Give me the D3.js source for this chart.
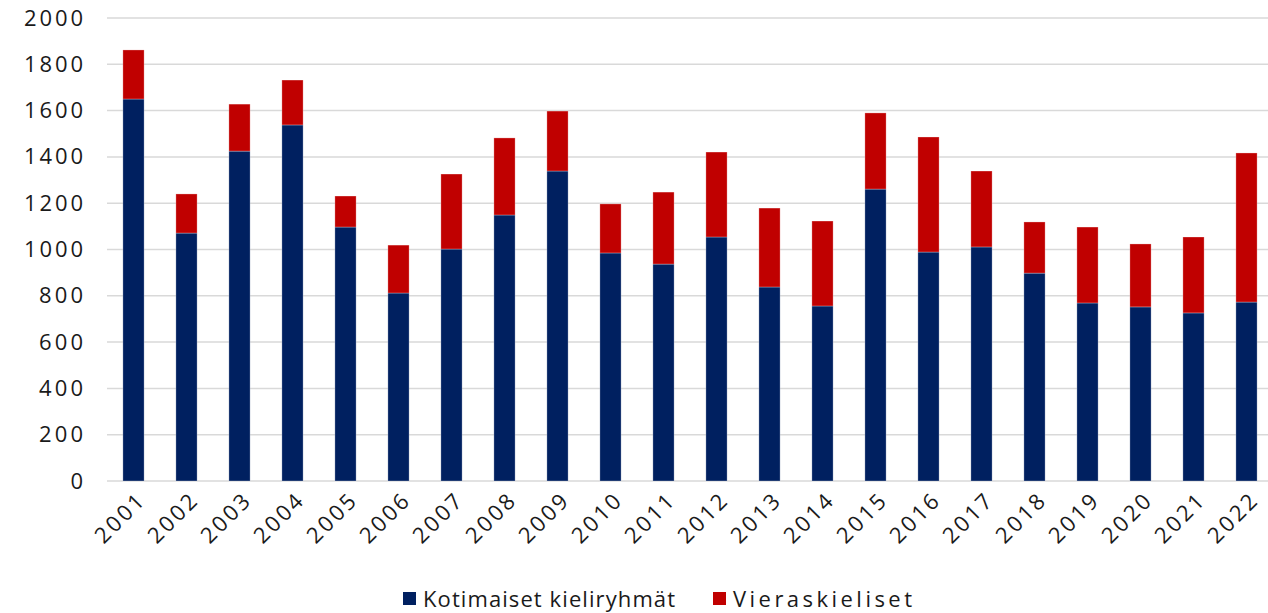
<!DOCTYPE html>
<html><head><meta charset="utf-8">
<script src="https://cdn.jsdelivr.net/npm/d3@7"></script>
<style>body{margin:0;background:#fff}svg{display:block}text{font-family:"Open Sans",sans-serif;fill:#1a1a1a}</style>
</head><body><svg id="c" width="1268" height="613"></svg>
<script>
const years = ["2001","2002","2003","2004","2005","2006","2007","2008","2009","2010","2011","2012","2013","2014","2015","2016","2017","2018","2019","2020","2021","2022"];
const kotimaiset = [1650,1071,1425,1538,1097,812,1002,1149,1339,985,937,1054,838,756,1261,989,1011,898,769,752,726,773];
const vieraskieliset = [212,169,203,194,134,207,324,333,259,212,311,367,341,367,329,497,328,221,328,272,328,644];
const seriesNames = ["Kotimaiset kieliryhmät","Vieraskieliset"];
const colors = ["#002060","#c00000"];
const yTicks = [0,200,400,600,800,1000,1200,1400,1600,1800,2000];

const svg = d3.select("#c");
const x = d3.scaleBand().domain(years).range([107,1273]).paddingInner(0.6).paddingOuter(0.3);
const y = d3.scaleLinear().domain([0,2000]).range([481,18]);

// gridlines
svg.append("g").selectAll("line").data(yTicks).join("line")
  .attr("x1",107).attr("x2",1268).attr("y1",d=>y(d)).attr("y2",d=>y(d))
  .attr("stroke","#d9d9d9").attr("stroke-width",1.5);

const data = years.map((yr,i)=>({year:yr,k:kotimaiset[i],v:vieraskieliset[i]}));
const stack = d3.stack().keys(["k","v"])(data);
svg.append("g").selectAll("g").data(stack).join("g").attr("fill",(d,i)=>colors[i])
  .selectAll("rect").data(d=>d).join("rect")
  .attr("x",d=>x(d.data.year)).attr("width",x.bandwidth())
  .attr("y",d=>y(d[1])).attr("height",d=>y(d[0])-y(d[1]))
  .attr("stroke","#ffffff").attr("stroke-opacity",0.35).attr("stroke-width",0.8);

// y axis labels
const ya = svg.append("g").attr("transform","translate(83,0)")
  .call(d3.axisLeft(y).tickValues(yTicks).tickSize(0).tickPadding(0).tickFormat(d3.format("d")));
ya.select(".domain").remove();
ya.selectAll("text").style("font-size","22px").attr("fill","#1a1a1a").attr("font-family",null)
  .attr("textLength",function(d){return String(d).length*15-1;}).attr("lengthAdjust","spacing");

// x axis labels
const xa = svg.append("g").attr("transform","translate(0,481)")
  .call(d3.axisBottom(x).tickSize(0).tickPadding(0));
xa.select(".domain").remove();
xa.selectAll("text").style("font-size","22px").attr("fill","#1a1a1a").attr("font-family",null)
  .attr("text-anchor","end").attr("dy",null).attr("y",0)
  .attr("textLength",59).attr("lengthAdjust","spacing")
  .attr("transform","translate(12,22) rotate(-45)");

// legend
const leg = svg.append("g");
const lx = [403,713];
const lw = [252,179];
seriesNames.forEach((n,i)=>{
  leg.append("rect").attr("x",lx[i]).attr("y",592).attr("width",13).attr("height",13).attr("fill",colors[i]);
  leg.append("text").attr("x",lx[i]+20).attr("y",607).style("font-size","22px")
    .attr("textLength",lw[i]).attr("lengthAdjust","spacing").text(n);
});
</script></body></html>
